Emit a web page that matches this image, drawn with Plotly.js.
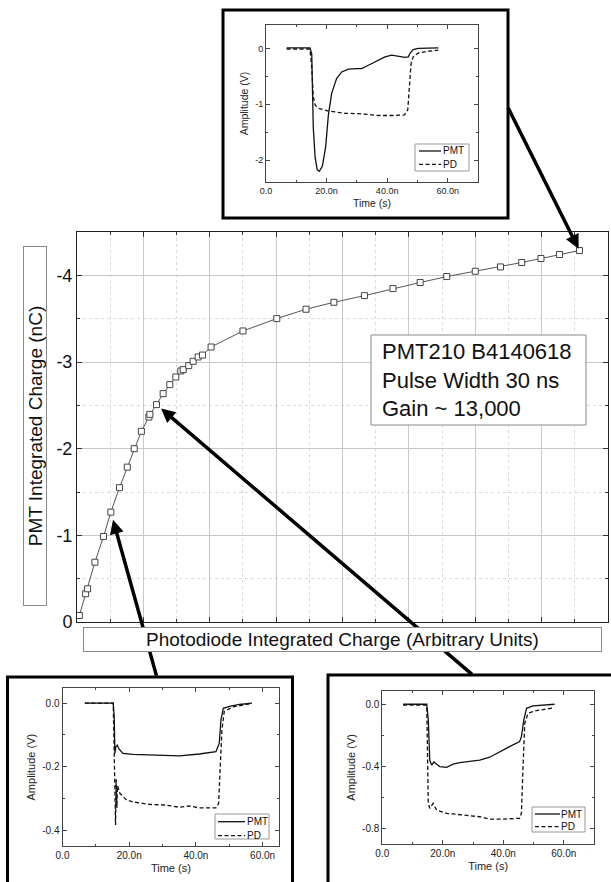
<!DOCTYPE html>
<html>
<head>
<meta charset="utf-8">
<script src="https://cdn.plot.ly/plotly-3.0.1.min.js"></script>
<style>html,body{margin:0;padding:0;background:#fff;}#chart{width:611px;height:882px;}</style>
</head>
<body>
<div id="chart"></div>
<script>
// ---------- main curve data ----------
const pdCharge = [0.035, 0.13, 0.16, 0.27, 0.40, 0.51, 0.64, 0.757, 0.862, 0.97, 1.083, 1.098, 1.198, 1.298, 1.398, 1.489, 1.564, 1.60, 1.684, 1.75, 1.825, 1.89, 2.02, 2.50, 3.01, 3.45, 3.87, 4.33, 4.76, 5.17, 5.57, 6.00, 6.38, 6.70, 6.99, 7.27, 7.57];
const pmtCharge = [-0.075, -0.326, -0.383, -0.69, -0.987, -1.268, -1.55, -1.787, -2.0, -2.2, -2.365, -2.396, -2.508, -2.635, -2.739, -2.827, -2.896, -2.912, -2.958, -3.008, -3.058, -3.08, -3.173, -3.358, -3.501, -3.609, -3.689, -3.766, -3.847, -3.917, -3.986, -4.047, -4.097, -4.148, -4.194, -4.24, -4.286];
const mainYTickVals = [0, -1, -2, -3, -4];
const mainYTickText = ['0', '-1', '-2', '-3', '-4'];

// ---------- top inset (highest point) ----------
const topPmtTime = [6.8, 14.5, 15.1, 15.3, 15.6, 16.2, 16.9, 17.6, 18.6, 19.7, 20.6, 21.7, 23.3, 25.0, 27.2, 29.9, 31.6, 33.8, 36.5, 39.3, 41.5, 43.1, 45.9, 47.0, 47.5, 48.6, 50.3, 56.9];
const topPmtAmp  = [0.01, 0.01, -0.09, -0.63, -1.4, -1.94, -2.17, -2.2, -2.11, -1.76, -1.19, -0.80, -0.54, -0.42, -0.37, -0.36, -0.36, -0.30, -0.23, -0.15, -0.12, -0.13, -0.16, -0.15, -0.09, -0.02, 0.0, 0.01];
const topPdTime  = [6.8, 14.5, 15.1, 15.6, 16.2, 17.3, 20.6, 26.1, 31.6, 37.1, 42.6, 45.7, 46.8, 47.3, 47.9, 48.6, 50.3, 53.6, 56.9];
const topPdAmp   = [-0.01, -0.01, -0.33, -0.86, -1.01, -1.07, -1.12, -1.16, -1.17, -1.20, -1.20, -1.19, -1.10, -0.69, -0.27, -0.15, -0.08, -0.05, -0.03];
const topYTickVals = [0, -1, -2];
const topYTickText = ['0', '-1', '-2'];

// ---------- bottom-left inset (low point) ----------
const blPmtTime = [6.7, 15.2, 15.5, 15.7, 16.0, 16.4, 17.0, 18.1, 21.1, 26.1, 31.1, 35.1, 41.0, 46.0, 47.0, 47.5, 48.2, 50.1, 53.0, 56.8];
const blPmtAmp  = [0, 0, -0.042, -0.158, -0.137, -0.132, -0.145, -0.158, -0.161, -0.163, -0.163, -0.166, -0.160, -0.153, -0.126, -0.053, -0.016, -0.010, -0.004, 0];
const blPdTime  = [6.7, 15.2, 15.5, 15.9, 16.1, 16.3, 16.5, 17.2, 19.2, 21.1, 26.1, 31.1, 35.1, 38.1, 41.0, 46.0, 46.8, 47.3, 47.8, 48.5, 51.0, 54.0, 56.8];
const blPdAmp   = [0, 0, -0.15, -0.384, -0.24, -0.33, -0.26, -0.284, -0.305, -0.311, -0.319, -0.321, -0.328, -0.324, -0.33, -0.33, -0.316, -0.21, -0.084, -0.026, -0.012, -0.006, -0.001];
const blYTickVals = [0, -0.2, -0.4];
const blYTickText = ['0.0', '-0.2', '-0.4'];

// ---------- bottom-right inset (middle point) ----------
const brPmtTime = [6.9, 14.7, 15.2, 15.7, 16.3, 17.1, 18.0, 19.0, 21.3, 23.4, 25.6, 28.9, 32.2, 35.5, 38.8, 42.1, 45.4, 46.0, 46.8, 47.7, 49.8, 57.0];
const brPmtAmp  = [0, 0, -0.10, -0.36, -0.39, -0.37, -0.385, -0.40, -0.405, -0.385, -0.375, -0.368, -0.358, -0.34, -0.304, -0.272, -0.24, -0.208, -0.10, -0.026, -0.01, 0];
const brPdTime  = [6.9, 14.7, 15.2, 15.7, 16.8, 18.0, 21.3, 25.6, 32.2, 35.5, 39.9, 45.4, 46.0, 46.5, 47.1, 48.2, 50.9, 57.0];
const brPdAmp   = [-0.006, -0.006, -0.636, -0.668, -0.636, -0.68, -0.70, -0.71, -0.722, -0.737, -0.737, -0.732, -0.70, -0.42, -0.122, -0.058, -0.041, -0.022];
const brYTickVals = [0, -0.4, -0.8];
const brYTickText = ['0.0', '-0.4', '-0.8'];

const insetXTickVals = [0, 20, 40, 60];
const insetXTickText = ['0.0', '20.0n', '40.0n', '60.0n'];
const seriesNames = ['PMT', 'PD'];

// ---------- helpers (pixel -> paper) ----------
const W = 611, H = 882;
const fx = p => p / W;
const fy = p => 1 - p / H;
const FONT = 'Liberation Sans, Arial, sans-serif';

const traces = [
  {x: pdCharge, y: pmtCharge, xaxis: 'x', yaxis: 'y', mode: 'lines+markers', type: 'scatter',
   line: {color: '#555', width: 1},
   marker: {symbol: 'square', size: 6, color: '#fff', line: {color: '#444', width: 1}}},
];
function addInset(t1, a1, t2, a2, xa, ya) {
  traces.push({x: t1, y: a1, xaxis: xa, yaxis: ya, mode: 'lines', type: 'scatter', name: seriesNames[0],
    line: {color: '#111', width: 1.3}});
  traces.push({x: t2, y: a2, xaxis: xa, yaxis: ya, mode: 'lines', type: 'scatter', name: seriesNames[1],
    line: {color: '#111', width: 1.3, dash: '4px,2.5px'}});
}
addInset(topPmtTime, topPmtAmp, topPdTime, topPdAmp, 'x2', 'y2');
addInset(blPmtTime, blPmtAmp, blPdTime, blPdAmp, 'x3', 'y3');
addInset(brPmtTime, brPmtAmp, brPdTime, brPdAmp, 'x4', 'y4');

function insetX(domain, anchor, range, tfs, titleSize) {
  return {domain: domain, anchor: anchor, range: range, tickmode: 'array', tickvals: insetXTickVals, ticktext: insetXTickText,
    showline: true, linecolor: '#444', linewidth: 1, mirror: 'allticks', ticks: 'inside', ticklen: 4, tickcolor: '#444',
    showgrid: false, zeroline: false, tickfont: {size: tfs, color: '#222', family: FONT},
    minor: {dtick: 10, tick0: 0, ticks: 'inside', ticklen: 2, tickcolor: '#444'},
    title: {text: 'Time (s)', font: {size: titleSize, color: '#222', family: FONT}, standoff: 4}};
}
function insetY(domain, anchor, range, vals, text, mdt, tfs, titleSize) {
  return {domain: domain, anchor: anchor, range: range, tickmode: 'array', tickvals: vals, ticktext: text,
    showline: true, linecolor: '#444', linewidth: 1, mirror: 'allticks', ticks: 'inside', ticklen: 4, tickcolor: '#444',
    showgrid: false, zeroline: false, tickfont: {size: tfs, color: '#222', family: FONT},
    minor: {dtick: mdt, tick0: 0, ticks: 'inside', ticklen: 2, tickcolor: '#444'},
    title: {text: 'Amplitude (V)', font: {size: titleSize, color: '#222', family: FONT}, standoff: 4}};
}

const shapes = [
  // text box
  {type: 'rect', xref: 'paper', yref: 'paper', x0: fx(371), x1: fx(586), y0: fy(425), y1: fy(335),
   line: {color: '#8a8a8a', width: 1}, fillcolor: '#fff', layer: 'above'},
  // inset frames
  {type: 'rect', xref: 'paper', yref: 'paper', x0: fx(223), x1: fx(508), y0: fy(218), y1: fy(10),
   line: {color: '#000', width: 3}},
  {type: 'rect', xref: 'paper', yref: 'paper', x0: fx(7.5), x1: fx(292.5), y0: -0.05, y1: fy(677),
   line: {color: '#000', width: 3}},
  {type: 'rect', xref: 'paper', yref: 'paper', x0: fx(328), x1: 1.05, y0: -0.05, y1: fy(675),
   line: {color: '#000', width: 3}},
];
const annotations = [];

// manual inset legends
function legendBox(x0, y0, x1, y1, l0, l1, yA, yB, tx, fs) {
  shapes.push({type: 'rect', xref: 'paper', yref: 'paper', x0: fx(x0), x1: fx(x1), y0: fy(y1), y1: fy(y0),
    line: {color: '#999', width: 1}, fillcolor: '#fff', layer: 'above'});
  shapes.push({type: 'line', xref: 'paper', yref: 'paper', x0: fx(l0), x1: fx(l1), y0: fy(yA), y1: fy(yA),
    line: {color: '#111', width: 1.3}, layer: 'above'});
  shapes.push({type: 'line', xref: 'paper', yref: 'paper', x0: fx(l0), x1: fx(l1), y0: fy(yB), y1: fy(yB),
    line: {color: '#111', width: 1.3, dash: '4px,2.5px'}, layer: 'above'});
  annotations.push({xref: 'paper', yref: 'paper', x: fx(tx), y: fy(yA), xanchor: 'left', yanchor: 'middle',
    text: seriesNames[0], showarrow: false, font: {size: fs, color: '#111', family: FONT}, borderpad: 0});
  annotations.push({xref: 'paper', yref: 'paper', x: fx(tx), y: fy(yB), xanchor: 'left', yanchor: 'middle',
    text: seriesNames[1], showarrow: false, font: {size: fs, color: '#111', family: FONT}, borderpad: 0});
}
legendBox(415, 144, 469, 171, 419, 441, 151, 164.3, 442, 10);
legendBox(215, 814, 269, 839, 218, 245, 821.7, 835.7, 245.5, 10);
legendBox(532, 807, 585, 832, 535, 560, 814, 826.7, 559.5, 10);

// arrows (drawn before the x-title box so the box covers them)
function arrow(i, ax, ay, standoff) {
  annotations.push({x: pdCharge[i], y: pmtCharge[i], xref: 'x', yref: 'y', ax: ax, ay: ay, text: '',
    showarrow: true, arrowhead: 2, arrowsize: 0.8, arrowwidth: 3.5, arrowcolor: '#000', standoff: standoff});
}
arrow(36, -72, -144, 2);
arrow(5, 46, 165, 8);
arrow(12, 317, 271, 6);

// text box content
annotations.push({xref: 'paper', yref: 'paper', x: fx(380), y: fy(380), xanchor: 'left', yanchor: 'middle', align: 'left',
  text: 'PMT210 B4140618<br>Pulse Width 30 ns<br>Gain ~ 13,000', showarrow: false,
  font: {size: 22, color: '#111', family: FONT}});
// axis titles in boxes
annotations.push({xref: 'paper', yref: 'paper', x: fx(342.5), y: fy(639.5), xanchor: 'center', yanchor: 'middle',
  text: 'Photodiode Integrated Charge (Arbitrary Units)', showarrow: false, width: 517, height: 23,
  borderpad: 0, borderwidth: 1, bordercolor: '#8a8a8a', bgcolor: '#fff', font: {size: 19, color: '#111', family: FONT}});
annotations.push({xref: 'paper', yref: 'paper', x: fx(35), y: fy(426), xanchor: 'center', yanchor: 'middle', textangle: -90,
  text: 'PMT Integrated Charge (nC)', showarrow: false, width: 358, height: 22,
  borderpad: 0, borderwidth: 1, bordercolor: '#8a8a8a', bgcolor: '#fff', font: {size: 19, color: '#111', family: FONT}});

const layout = {
  width: W, height: H, margin: {l: 0, r: 0, t: 0, b: 0}, showlegend: false,
  paper_bgcolor: '#fff', plot_bgcolor: '#fff', font: {family: FONT, color: '#111'},
  xaxis: {domain: [fx(77), fx(608)], anchor: 'y', range: [0, 8], dtick: 1, tick0: 0, showticklabels: false,
    ticks: 'inside', ticklen: 5, tickcolor: '#333', showgrid: true, gridcolor: '#c8c8c8', gridwidth: 1,
    showline: true, linecolor: '#222', linewidth: 1, mirror: 'allticks', zeroline: false,
    minor: {dtick: 0.5, tick0: 0, ticks: 'inside', ticklen: 3, tickcolor: '#333', showgrid: true, gridcolor: '#dcdcdc', griddash: 'dot'}},
  yaxis: {domain: [fy(622), fy(232)], anchor: 'x', range: [0, -4.5], tickmode: 'array', tickvals: mainYTickVals, ticktext: mainYTickText,
    tickfont: {size: 18, color: '#111', family: FONT},
    ticks: 'inside', ticklen: 5, tickcolor: '#333', showgrid: true, gridcolor: '#c8c8c8', gridwidth: 1,
    showline: true, linecolor: '#222', linewidth: 1, mirror: 'allticks', zeroline: false,
    minor: {dtick: 0.5, tick0: 0, ticks: 'inside', ticklen: 3, tickcolor: '#333', showgrid: true, gridcolor: '#dcdcdc', griddash: 'dot'}},
  xaxis2: insetX([fx(266), fx(478)], 'y2', [0, 70], 9, 10.5),
  yaxis2: insetY([fy(182), fy(25)], 'x2', [-2.39, 0.42], topYTickVals, topYTickText, 0.5, 9, 10.5),
  xaxis3: insetX([fx(62.5), fx(279.3)], 'y3', [0, 65], 10, 11),
  yaxis3: insetY([fy(846), fy(688.3)], 'x3', [-0.45, 0.047], blYTickVals, blYTickText, 0.1, 10, 11),
  xaxis4: insetX([fx(382.3), fx(594)], 'y4', [0, 70], 10, 11),
  yaxis4: insetY([fy(844), fy(690.7)], 'x4', [-0.897, 0.087], brYTickVals, brYTickText, 0.2, 10, 11),
  shapes: shapes,
  annotations: annotations,
};

Plotly.newPlot('chart', traces, layout, {displayModeBar: false, staticPlot: true});
</script>
</body>
</html>
